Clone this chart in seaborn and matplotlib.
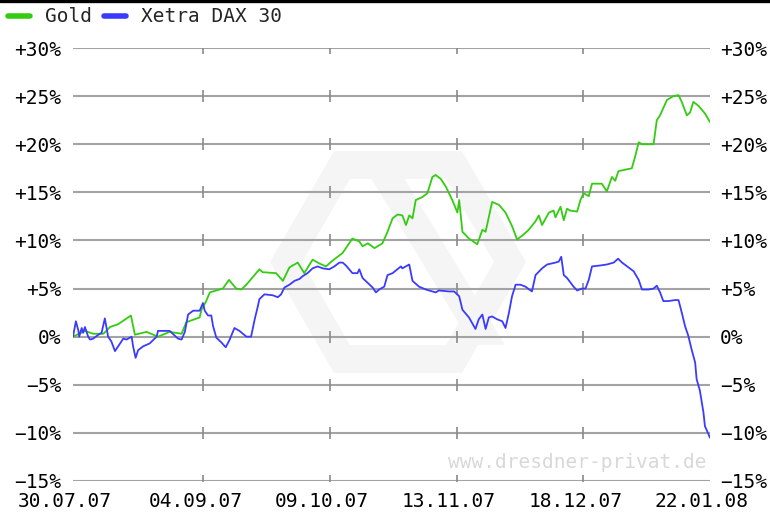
import numpy as np
import pandas as pd
import matplotlib
matplotlib.use("Agg")
import matplotlib.pyplot as plt
import seaborn as sns
from matplotlib.transforms import ScaledTranslation
from matplotlib.lines import Line2D
from matplotlib.patches import Polygon

# ---------------- data ----------------
start_date = "2007-07-30"
end_date = "2008-01-22"

gold_days = [0, 3.3, 5.6, 8.4, 10.2, 12.5, 16.0, 17.1, 20.3, 23.5, 26.7, 30.0, 31.3, 35.0, 35.5,
             36.8, 37.8, 41.4, 43.1, 45.1, 46.5, 47.9, 51.5, 52.4, 56.1, 58.0, 59.8, 62.1, 63.9,
             66.2, 68.1, 69.9, 71.7, 74.5, 77.2, 79.1, 80.0, 81.5, 83.3, 85.5, 86.9, 88.3, 89.7,
             91.0, 92.0, 92.9, 93.8, 94.7, 96.5, 97.9, 99.3, 100.2, 101.6, 103.0, 104.8, 106.2,
             106.7, 107.6, 109.4, 111.7, 113.1, 114.0, 115.8, 117.7, 119.5, 121.3, 122.7, 124.1,
             125.9, 127.8, 128.7, 129.6, 131.5, 132.8, 133.3, 134.7, 135.6, 136.5, 137.4, 139.3,
             140.2, 141.1, 142.5, 143.4, 146.1, 147.5, 148.9, 149.8, 150.7, 154.4, 155.3, 156.3,
             157.2, 160.4, 161.3, 162.2, 164.1, 165.9, 167.3, 168.2, 169.6, 170.5, 171.4, 172.8,
             174.6, 176.0]
gold_pct = [0.0, 0.6, 0.3, 0.3, 1.0, 1.3, 2.2, 0.2, 0.5, 0.0, 0.5, 0.3, 1.5, 2.0, 2.8,
            3.7, 4.6, 5.0, 5.9, 5.0, 4.9, 5.4, 7.0, 6.7, 6.6, 5.8, 7.2, 7.7, 6.6,
            8.0, 7.6, 7.3, 7.9, 8.7, 10.2, 9.9, 9.4, 9.7, 9.2, 9.7, 10.9, 12.3, 12.7,
            12.6, 11.6, 12.6, 12.3, 14.2, 14.5, 14.9, 16.6, 16.8, 16.4, 15.6, 14.2, 12.9,
            14.2, 10.9, 10.2, 9.6, 11.1, 10.9, 14.0, 13.7, 12.9, 11.5, 10.1, 10.5,
            11.1, 12.0, 12.6, 11.6, 12.9, 13.1, 12.4, 13.5, 12.1, 13.3, 13.1, 13.0,
            14.2, 14.9, 14.6, 15.9, 15.9, 15.1, 16.6, 16.2, 17.2, 17.5, 18.7, 20.2,
            20.0, 20.0, 22.5, 23.0, 24.6, 25.0, 25.1, 24.4, 23.0, 23.3, 24.4, 24.0,
            23.2, 22.3]

dax_days = [0, 0.8, 1.5, 1.7, 2.4, 2.8, 3.3, 4.2, 4.7, 5.6, 7.0, 7.9, 8.8, 9.7, 10.6, 11.6,
            13.0, 13.9, 14.8, 16.2, 16.6, 17.3, 18.0, 19.4, 21.2, 23.1, 23.5, 26.7, 29.0, 30.0,
            30.9, 31.8, 33.2, 35.0, 35.9, 36.4, 37.3, 38.2, 38.7, 39.6, 41.0, 42.2, 43.3, 44.6,
            46.0, 47.9, 49.2, 50.2, 51.1, 51.5, 52.9, 55.2, 56.6, 57.5, 58.4, 59.8, 61.2, 62.6,
            63.5, 64.8, 66.2, 67.6, 69.0, 70.8, 72.2, 73.6, 74.5, 75.4, 77.2, 78.6, 79.1, 80.0,
            81.4, 82.8, 83.7, 84.6, 86.0, 86.9, 88.3, 90.6, 91.0, 92.9, 93.8, 95.6, 97.5, 99.3,
            100.2, 101.1, 103.9, 105.3, 106.7, 107.6, 109.4, 111.2, 112.1, 113.1, 114.0, 114.9,
            115.8, 117.2, 118.6, 119.5, 120.4, 121.3, 122.3, 123.6, 125.0, 126.8, 127.8, 129.6,
            131.0, 133.3, 134.2, 134.9, 135.6, 136.5, 138.3, 139.3, 140.6, 141.6, 142.5, 143.4,
            145.7, 147.5, 149.4, 150.6, 151.7, 153.1, 154.9, 156.3, 157.2, 159.0, 160.4, 161.3,
            162.2, 163.1, 164.5, 166.3, 167.3, 168.2, 169.1, 170.0, 170.9, 171.9, 172.3, 173.2,
            174.2, 174.6, 176.0]
dax_pct = [0.0, 1.6, 0.6, 0.0, 0.9, 0.4, 1.0, 0.0, -0.3, -0.2, 0.2, 0.4, 1.9, 0.0, -0.5, -1.5,
           -0.7, -0.2, -0.3, 0.0, -1.0, -2.2, -1.4, -1.0, -0.7, 0.0, 0.6, 0.6, -0.2, -0.3,
           0.5, 2.3, 2.7, 2.7, 3.5, 2.7, 2.2, 2.2, 1.1, -0.1, -0.6, -1.1, -0.3, 0.9,
           0.6, 0.0, 0.0, 1.8, 3.2, 3.9, 4.4, 4.3, 4.1, 4.4, 5.1, 5.4, 5.8, 6.0,
           6.3, 6.6, 7.1, 7.3, 7.1, 7.0, 7.3, 7.7, 7.7, 7.4, 6.6, 6.6, 7.0, 6.1,
           5.6, 5.1, 4.6, 4.9, 5.2, 6.4, 6.6, 7.3, 7.1, 7.5, 5.8, 5.2, 4.9, 4.7,
           4.6, 4.8, 4.7, 4.7, 4.2, 2.8, 2.0, 0.8, 1.8, 2.3, 0.8, 2.0,
           2.1, 1.8, 1.6, 0.9, 2.4, 4.2, 5.4, 5.4, 5.2, 4.7, 6.4, 7.1,
           7.5, 7.7, 7.8, 8.3, 6.4, 6.1, 5.2, 4.8, 5.0, 5.0, 5.9, 7.3,
           7.4, 7.5, 7.7, 8.1, 7.7, 7.3, 6.8, 5.9, 4.9, 4.9, 5.0, 5.3,
           4.6, 3.7, 3.7, 3.8, 3.8, 2.5, 1.1, 0.1, -1.3, -2.7, -4.4, -5.6,
           -7.9, -9.3, -10.5]

series_names = ["Gold", "Xetra DAX 30"]
series_colors = ["#33cc11", "#3b3bff"]
x_tick_labels = ["30.07.07", "04.09.07", "09.10.07", "13.11.07", "18.12.07", "22.01.08"]
y_ticks = [-15, -10, -5, 0, 5, 10, 15, 20, 25, 30]

# ---------------- build long table ----------------
t0 = pd.Timestamp(start_date)
df = pd.concat([
    pd.DataFrame({"date": t0 + pd.to_timedelta(gold_days, unit="D"), "pct": gold_pct,
                  "series": series_names[0]}),
    pd.DataFrame({"date": t0 + pd.to_timedelta(dax_days, unit="D"), "pct": dax_pct,
                  "series": series_names[1]}),
], ignore_index=True)

# ---------------- style ----------------
sns.set_theme(style="white")
plt.rcParams["font.family"] = ["DejaVu Sans Mono", "DejaVu Sans"]
FS = 14

W, H = 770, 515
fig = plt.figure(figsize=(W / 100, H / 100), dpi=100)
fig.patch.set_facecolor("white")

def fx(px):
    return px / W

def fy(py):
    return 1 - py / H

# faint background logo (hexagon ring with inner band)
cx, cy, r_out, r_in = 398, 262, 128, 96
def hexagon(r):
    return [(fx(cx + r * np.cos(np.radians(a))), fy(cy + r * np.sin(np.radians(a))))
            for a in range(0, 360, 60)]
logo_col = "#f5f5f5"
fig.add_artist(Polygon(hexagon(r_out), closed=True, facecolor=logo_col, edgecolor="none",
                       transform=fig.transFigure, zorder=0))
fig.add_artist(Polygon(hexagon(r_in), closed=True, facecolor="white", edgecolor="none",
                       transform=fig.transFigure, zorder=0.1))
band = [(365, 168), (398, 168), (505, 345), (472, 345)]
fig.add_artist(Polygon([(fx(a), fy(b)) for a, b in band], closed=True, facecolor=logo_col,
                       edgecolor="none", transform=fig.transFigure, zorder=0.2))

# top black rule
fig.add_artist(Line2D([0, 1], [fy(1), fy(1)], transform=fig.transFigure, color="black",
                      lw=2.4, zorder=5))

ax = fig.add_axes([fx(73), fy(481), fx(710) - fx(73), fy(48) - fy(481)])
ax.set_facecolor("none")
ax.set_zorder(1)

# grid lines
for yv in y_ticks:
    ax.axhline(yv, color="#a3a3a3", lw=1.5, zorder=1)

tick_dates = pd.to_datetime(x_tick_labels, format="%d.%m.%y")
# small vertical tick marks crossing each gridline (interior ticks)
for d in tick_dates[1:-1]:
    ax.plot([d] * len(y_ticks), y_ticks, ls="none", marker="|", ms=8, mew=1.2,
            color="#8a8a8a", zorder=1.5)

sns.lineplot(data=df, x="date", y="pct", hue="series", hue_order=series_names,
             palette=series_colors, lw=1.3, ax=ax, legend=False, zorder=3, estimator=None,
             sort=False)

ax.set_xlim(t0, pd.Timestamp(end_date))
ax.set_ylim(-15, 30)
ax.set_xlabel("")
ax.set_ylabel("")
for s in ax.spines.values():
    s.set_visible(False)

def pct_fmt(v):
    if v > 0:
        return f"+{v}%"
    if v < 0:
        return f"\u2212{abs(v)}%"
    return "0%"

ax.set_yticks(y_ticks)
ax.set_yticklabels([pct_fmt(v) for v in y_ticks])
ax.tick_params(axis="y", left=False, right=False, labelleft=True, labelright=True,
               labelsize=FS, pad=1, colors="black")
lshift = ScaledTranslation(-2 / 100, 0, fig.dpi_scale_trans)
for tk in ax.yaxis.get_major_ticks():
    tk.label1.set_transform(tk.label1.get_transform() + lshift)

ax.set_xticks(tick_dates)
ax.set_xticklabels(x_tick_labels)
ax.tick_params(axis="x", bottom=False, labelsize=FS, pad=2, colors="black")
shift = ScaledTranslation(-8 / 100, 0, fig.dpi_scale_trans)
for lbl in ax.get_xticklabels():
    lbl.set_transform(lbl.get_transform() + shift)

# watermark
fig.text(fx(706), fy(463), "www.dresdner-privat.de", ha="right", va="center",
         color="#d8d8d8", fontsize=FS, zorder=0.5)

# legend
handles = [Line2D([], [], color=c, lw=4) for c in series_colors]
fig.legend(handles, series_names, loc="center left", bbox_to_anchor=(fx(8), fy(17)),
           ncol=2, frameon=False, fontsize=FS, handlelength=1.15, handletextpad=0.75,
           columnspacing=0.6, borderpad=0, borderaxespad=0)

fig.savefig("out.png", dpi=100, facecolor="white")
